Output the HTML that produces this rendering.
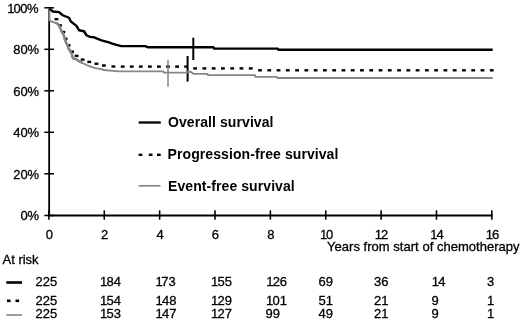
<!DOCTYPE html>
<html><head><meta charset="utf-8">
<style>
html,body{margin:0;padding:0;background:#fff;}
svg{display:block;}
text{font-family:"Liberation Sans",Arial,Helvetica,sans-serif;fill:#000;}
.t{font-size:13px;stroke:#000;stroke-width:0.3px;}
.w{font-size:13px;stroke:#000;stroke-width:0.3px;}
.b{font-size:14px;font-weight:bold;letter-spacing:0.08px;}
</style></head><body>
<svg width="520" height="322" viewBox="0 0 520 322">
<rect width="520" height="322" fill="#fff"/>
<g stroke="#000" fill="none">
<line x1="49.15" y1="7" x2="49.15" y2="216" stroke-width="1.8"/>
<line x1="48.5" y1="215.5" x2="492.4" y2="215.5" stroke-width="1.8"/>
<g stroke-width="1.5">
<line x1="44.3" y1="7.8" x2="54" y2="7.8"/><line x1="44.3" y1="49.3" x2="54" y2="49.3"/><line x1="44.3" y1="90.8" x2="54" y2="90.8"/><line x1="44.3" y1="132.3" x2="54" y2="132.3"/><line x1="44.3" y1="173.8" x2="54" y2="173.8"/><line x1="44.3" y1="215.5" x2="54" y2="215.5"/>
</g>
<g stroke-width="1.55">
<line x1="48.90" y1="210.3" x2="48.90" y2="219.7"/><line x1="104.27" y1="210.3" x2="104.27" y2="219.7"/><line x1="159.64" y1="210.3" x2="159.64" y2="219.7"/><line x1="215.01" y1="210.3" x2="215.01" y2="219.7"/><line x1="270.38" y1="210.3" x2="270.38" y2="219.7"/><line x1="325.75" y1="210.3" x2="325.75" y2="219.7"/><line x1="381.12" y1="210.3" x2="381.12" y2="219.7"/><line x1="436.49" y1="210.3" x2="436.49" y2="219.7"/><line x1="491.86" y1="210.3" x2="491.86" y2="219.7"/>
</g>
</g>
<g fill="#000"><rect x="54.50" y="18.00" width="3.8" height="2.4"/><rect x="58.10" y="24.20" width="3.8" height="2.4"/><rect x="61.50" y="30.80" width="3.8" height="2.4"/><rect x="63.70" y="37.60" width="3.8" height="2.4"/><rect x="66.70" y="44.10" width="3.8" height="2.4"/><rect x="70.20" y="50.50" width="3.8" height="2.4"/><rect x="74.70" y="54.70" width="3.8" height="2.4"/><rect x="80.70" y="58.40" width="3.8" height="2.4"/><rect x="87.35" y="60.70" width="3.8" height="2.4"/><rect x="94.60" y="62.55" width="3.8" height="2.4"/><rect x="102.00" y="64.30" width="3.8" height="2.4"/><rect x="111.50" y="65.30" width="3.8" height="2.4"/><rect x="120.80" y="65.40" width="3.8" height="2.4"/><rect x="129.86" y="65.40" width="3.8" height="2.4"/><rect x="138.92" y="65.40" width="3.8" height="2.4"/><rect x="147.98" y="65.40" width="3.8" height="2.4"/><rect x="157.04" y="65.40" width="3.8" height="2.4"/><rect x="166.10" y="65.40" width="3.8" height="2.4"/><rect x="175.16" y="65.40" width="3.8" height="2.4"/><rect x="184.22" y="65.40" width="3.8" height="2.4"/><rect x="193.20" y="67.20" width="3.8" height="2.4"/><rect x="202.47" y="67.20" width="3.8" height="2.4"/><rect x="211.74" y="67.20" width="3.8" height="2.4"/><rect x="221.01" y="67.20" width="3.8" height="2.4"/><rect x="230.28" y="67.20" width="3.8" height="2.4"/><rect x="239.55" y="67.20" width="3.8" height="2.4"/><rect x="248.82" y="67.20" width="3.8" height="2.4"/><rect x="258.09" y="69.10" width="3.8" height="2.4"/><rect x="267.36" y="69.10" width="3.8" height="2.4"/><rect x="276.63" y="69.10" width="3.8" height="2.4"/><rect x="285.90" y="69.10" width="3.8" height="2.4"/><rect x="295.17" y="69.10" width="3.8" height="2.4"/><rect x="304.44" y="69.10" width="3.8" height="2.4"/><rect x="313.71" y="69.10" width="3.8" height="2.4"/><rect x="322.98" y="69.10" width="3.8" height="2.4"/><rect x="332.25" y="69.10" width="3.8" height="2.4"/><rect x="341.52" y="69.10" width="3.8" height="2.4"/><rect x="350.79" y="69.10" width="3.8" height="2.4"/><rect x="360.06" y="69.10" width="3.8" height="2.4"/><rect x="369.33" y="69.10" width="3.8" height="2.4"/><rect x="378.60" y="69.10" width="3.8" height="2.4"/><rect x="387.87" y="69.10" width="3.8" height="2.4"/><rect x="397.14" y="69.10" width="3.8" height="2.4"/><rect x="406.41" y="69.10" width="3.8" height="2.4"/><rect x="415.68" y="69.10" width="3.8" height="2.4"/><rect x="424.95" y="69.10" width="3.8" height="2.4"/><rect x="434.22" y="69.10" width="3.8" height="2.4"/><rect x="443.49" y="69.10" width="3.8" height="2.4"/><rect x="452.76" y="69.10" width="3.8" height="2.4"/><rect x="462.03" y="69.10" width="3.8" height="2.4"/><rect x="471.30" y="69.10" width="3.8" height="2.4"/><rect x="480.57" y="69.10" width="3.8" height="2.4"/><rect x="489.84" y="69.10" width="3.8" height="2.4"/></g>
<g fill="none" stroke-linejoin="round">
<line x1="187.6" y1="56" x2="187.6" y2="81.6" stroke="#000" stroke-width="2"/>
<path stroke="#858585" stroke-width="1.85" d="M49.4,8 L49.4,20.5 L51,21.3 L55.3,22.9 L57.5,23.6 L59.2,26 L60.2,28 L61.5,31.4 L63,33.5 L64.6,37.6 L65.4,40.5 L66.2,43 L67.6,45 L68.5,48.5 L70,50.5 L70.8,52.4 L72,54 L72.4,57 L73.5,58.5 L77,59.6 L79,61.25 L82.5,63 L86.5,65 L90.5,66.6 L95.25,68.1 L100,68.9 L104,70 L110,70.6 L119,71.3 L163.3,71.4 L163.8,72.6 L186.8,72.6 L187.6,71.6 L191,72 L193.8,73.9 L207.5,73.9 L208,75.1 L255,75.1 L255.5,76.9 L277,76.9 L277.5,78 L492.7,78"/>
<path stroke="#858585" stroke-width="2.5" d="M55.3,22.9 L57.5,23.6 L59.2,26 L60.2,28 L61.5,31.4 L63,33.5 L64.6,37.6 L65.4,40.5 L66.2,43 L67.6,45 L68.5,48.5 L70,50.5 L70.8,52.4 L72,54 L72.4,57 L73.5,58.5 L77,59.6 L79,61.25 L82.5,63"/>
<line x1="168" y1="60" x2="168" y2="86.8" stroke="#858585" stroke-width="1.5"/>
<path stroke="#000" stroke-width="2.4" d="M49.6,8.4 L52.75,11.5 L59,12.1 L62.75,15.25 L69,17.75 L70.9,21.5 L76.5,25.9 L79,30.25 L84,31.25 L86.5,35.25 L90,36.9 L94,37.3 L101.5,40.4 L108.9,42.3 L113,43.8 L121.2,46.1 L145.4,46.1 L147.7,47.3 L213.5,47.3 L214.2,48.6 L277.8,48.6 L278.4,49.7 L492.7,49.7"/>
<line x1="193.3" y1="37.7" x2="193.3" y2="60" stroke="#000" stroke-width="2"/>
</g>
<line x1="138.6" y1="122.5" x2="160.8" y2="122.5" stroke="#000" stroke-width="2.3"/>
<g fill="#000"><rect x="138.6" y="153.6" width="3.7" height="2.4"/><rect x="148.8" y="153.6" width="3.7" height="2.4"/><rect x="157" y="153.6" width="3.7" height="2.4"/></g>
<line x1="138.5" y1="185.8" x2="160.5" y2="185.8" stroke="#858585" stroke-width="1.7"/>
<text class="b" x="168" y="127.2">Overall survival</text>
<text class="b" x="167.6" y="159">Progression-free survival</text>
<text class="b" x="168" y="190.8">Event-free survival</text>
<g class="t" text-anchor="end">
<text x="38.6" y="12.8">1<tspan dx="-0.9">0</tspan><tspan dx="-0.45">0</tspan><tspan dx="-0.45">%</tspan></text>
<text x="39.2" y="54.2">80%</text><text x="39.2" y="95.7">60%</text><text x="39.2" y="137.2">40%</text><text x="39.2" y="178.7">20%</text><text x="39.2" y="220.2">0%</text>
</g>
<g class="t" text-anchor="middle">
<text x="49.4" y="239.3">0</text><text x="104.6" y="239.3">2</text><text x="160" y="239.3">4</text><text x="215.4" y="239.3">6</text><text x="270.8" y="239.3">8</text><text x="326.6" y="239.3">1<tspan dx="-1.1">0</tspan></text><text x="381.5" y="239.3">1<tspan dx="-1.1">2</tspan></text><text x="437" y="239.3">1<tspan dx="-1.1">4</tspan></text><text x="492.5" y="239.3">1<tspan dx="-1.1">6</tspan></text>
</g>
<text class="w" x="327" y="250.7" textLength="192.6">Years from start of chemotherapy</text>
<text class="w" x="2.5" y="264.3">At risk</text>
<line x1="6.3" y1="282.5" x2="22" y2="282.5" stroke="#000" stroke-width="2.6"/>
<g fill="#000"><rect x="7" y="299.5" width="3.6" height="2.6"/><rect x="15.5" y="299.5" width="3.6" height="2.6"/></g>
<line x1="6.3" y1="315" x2="22" y2="315" stroke="#858585" stroke-width="1.6"/>
<g class="t">
<text x="35.5" y="286">225</text><text x="100.0" y="286">1<tspan dx="-0.8">8</tspan>4</text><text x="155.5" y="286">1<tspan dx="-1.4">7</tspan>3</text><text x="211.0" y="286">1<tspan dx="-0.8">5</tspan>5</text><text x="266.2" y="286">1<tspan dx="-0.8">2</tspan>6</text><text x="318.5" y="286">69</text><text x="374.0" y="286">36</text><text x="431.8" y="286">1<tspan dx="-0.8">4</tspan></text><text x="487.0" y="286">3</text>
<text x="35.5" y="305">225</text><text x="100.0" y="305">1<tspan dx="-0.8">5</tspan>4</text><text x="155.5" y="305">1<tspan dx="-0.8">4</tspan>8</text><text x="211.0" y="305">1<tspan dx="-0.8">2</tspan>9</text><text x="266.0" y="305">1<tspan dx="-0.8">0</tspan>1</text><text x="318.5" y="305">51</text><text x="374.0" y="305">21</text><text x="431.4" y="305">9</text><text x="487.0" y="305">1</text>
<text x="35.5" y="318.3">225</text><text x="100.0" y="318.3">1<tspan dx="-0.8">5</tspan>3</text><text x="155.5" y="318.3">1<tspan dx="-0.8">4</tspan>7</text><text x="211.0" y="318.3">1<tspan dx="-0.8">2</tspan>7</text><text x="265.5" y="318.3">99</text><text x="318.5" y="318.3">49</text><text x="374.0" y="318.3">21</text><text x="431.4" y="318.3">9</text><text x="487.0" y="318.3">1</text>
</g>
</svg>
</body></html>
